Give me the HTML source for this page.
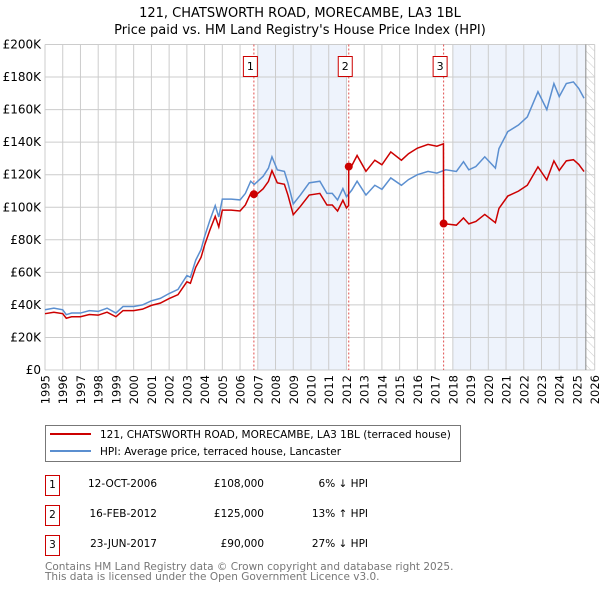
<!DOCTYPE html>
<html><head><meta charset="utf-8"><style>
body{margin:0;background:#fff;width:600px;height:590px;overflow:hidden;font-family:"DejaVu Sans","Liberation Sans",sans-serif}
svg text{font-family:"DejaVu Sans","Liberation Sans",sans-serif}
</style></head><body>
<svg id="chart" width="600" height="590">
<defs><pattern id="hatch" width="6" height="6" patternUnits="userSpaceOnUse" patternTransform="rotate(-45)"><line x1="0" y1="0" x2="0" y2="6" stroke="#ccc" stroke-width="1"/></pattern></defs>
<text x="300" y="17" text-anchor="middle" font-size="13">121, CHATSWORTH ROAD, MORECAMBE, LA3 1BL</text>
<text x="300" y="34" text-anchor="middle" font-size="13">Price paid vs. HM Land Registry's House Price Index (HPI)</text>
<g id="plot"></g>
<g>
<rect x="45.5" y="425.5" width="415" height="36" fill="#fff" stroke="#777"/>
<line x1="50" y1="434" x2="91" y2="434" stroke="#cc0000" stroke-width="2"/>
<text x="100" y="438" font-size="10.5">121, CHATSWORTH ROAD, MORECAMBE, LA3 1BL (terraced house)</text>
<line x1="50" y1="451" x2="91" y2="451" stroke="#5b8fd0" stroke-width="2"/>
<text x="100" y="455" font-size="10.5">HPI: Average price, terraced house, Lancaster</text>
</g>
<g font-size="10.5">
<rect x="45.5" y="475.5" width="14" height="20" fill="none" stroke="#cc0000"/><text x="52.5" y="488" text-anchor="middle">1</text>
<text x="157" y="487" text-anchor="end">12-OCT-2006</text><text x="264" y="487" text-anchor="end">£108,000</text><text x="368" y="487" text-anchor="end">6% ↓ HPI</text>
<rect x="45.5" y="505.5" width="14" height="20" fill="none" stroke="#cc0000"/><text x="52.5" y="518" text-anchor="middle">2</text>
<text x="157" y="517" text-anchor="end">16-FEB-2012</text><text x="264" y="517" text-anchor="end">£125,000</text><text x="368" y="517" text-anchor="end">13% ↑ HPI</text>
<rect x="45.5" y="535.5" width="14" height="20" fill="none" stroke="#cc0000"/><text x="52.5" y="548" text-anchor="middle">3</text>
<text x="157" y="547" text-anchor="end">23-JUN-2017</text><text x="264" y="547" text-anchor="end">£90,000</text><text x="368" y="547" text-anchor="end">27% ↓ HPI</text>
</g>
<text x="45" y="570" font-size="10.5" fill="#777">Contains HM Land Registry data © Crown copyright and database right 2025.</text>
<text x="45" y="580" font-size="10.5" fill="#777">This data is licensed under the Open Government Licence v3.0.</text>
</svg>
<script>
const yTicks=[0,20,40,60,80,100,120,140,160,180,200];
const yTickLabels=["£0","£20K","£40K","£60K","£80K","£100K","£120K","£140K","£160K","£180K","£200K"];
const xYears=[1995,1996,1997,1998,1999,2000,2001,2002,2003,2004,2005,2006,2007,2008,2009,2010,2011,2012,2013,2014,2015,2016,2017,2018,2019,2020,2021,2022,2023,2024,2025,2026];
const hpiDates=[1995.0,1995.5,1996.0,1996.2,1996.5,1997.0,1997.5,1998.0,1998.5,1999.0,1999.4,2000.0,2000.5,2001.0,2001.5,2002.0,2002.5,2003.0,2003.2,2003.5,2003.8,2004.0,2004.3,2004.6,2004.8,2005.0,2005.5,2006.0,2006.3,2006.6,2006.8,2007.0,2007.3,2007.6,2007.8,2008.1,2008.5,2008.7,2009.0,2009.4,2009.9,2010.5,2010.9,2011.2,2011.5,2011.8,2012.0,2012.3,2012.6,2013.1,2013.6,2014.0,2014.5,2015.1,2015.5,2016.0,2016.6,2017.1,2017.6,2018.2,2018.6,2018.9,2019.3,2019.8,2020.4,2020.6,2021.1,2021.7,2022.2,2022.8,2023.3,2023.7,2024.0,2024.4,2024.8,2025.1,2025.4];
const hpiValues=[37,38,37,34,35,35,36.5,36,38,35,39,39,40,42.5,44,47,49.5,58,57,67.5,74,82,92,101,94,105,105,104.5,108.5,116,114,116,119,124,131,123,122,115,102,107.5,115,116,108.5,108.5,104.5,111.5,106.5,110.5,116,107.5,113.5,111,118,113.5,117,120,122,121,123,122,128,123,125,131,124,136,146.5,150.5,155.5,171,160,176,168,176,177,173,167];
const priceDates=[1995.0,1995.5,1996.0,1996.2,1996.5,1997.0,1997.5,1998.0,1998.5,1999.0,1999.4,2000.0,2000.5,2001.0,2001.5,2002.0,2002.5,2003.0,2003.2,2003.5,2003.8,2004.0,2004.3,2004.6,2004.8,2005.0,2005.5,2006.0,2006.3,2006.6,2006.8,2007.0,2007.3,2007.6,2007.8,2008.1,2008.5,2008.7,2009.0,2009.4,2009.9,2010.5,2010.9,2011.2,2011.5,2011.8,2012.0,2012.12,2012.13,2012.3,2012.6,2013.1,2013.6,2014.0,2014.5,2015.1,2015.5,2016.0,2016.6,2017.1,2017.47,2017.48,2017.6,2018.2,2018.6,2018.9,2019.3,2019.8,2020.4,2020.6,2021.1,2021.7,2022.2,2022.8,2023.3,2023.7,2024.0,2024.4,2024.8,2025.1,2025.4];
const priceValues=[34.6,35.5,34.6,31.8,32.7,32.7,34.1,33.7,35.5,32.7,36.5,36.5,37.4,39.7,41.1,43.9,46.3,54.2,53.3,63.1,69.2,76.7,86,94.4,87.9,98.2,98.2,97.7,101.4,108.5,106.6,108.5,111.3,115.9,122.5,115,114.1,107.5,95.4,100.5,107.5,108.5,101.4,101.4,97.7,104.3,99.6,101,125,125.5,131.8,122.1,128.9,126.1,134,128.9,132.9,136.3,138.6,137.5,139,90,89.8,89,93.4,89.8,91.3,95.6,90.5,99.3,106.9,109.9,113.5,124.8,116.8,128.5,122.6,128.5,129.2,126.3,121.9];
const saleDates=[2006.78,2012.13,2017.48];
const salePrices=[108,125,90];
const saleLabels=["1","2","3"];
const shadeStarts=[2007.0,2018.0];
const shadeEnds=[2012.0,2025.5];

const L=45,R=594.7,T=44.5,B=370;
const xs=y=>L+(y-1995)*(R-L)/31;
const ys=v=>B-v*(B-T)/200;
const NS="http://www.w3.org/2000/svg";
const g=document.getElementById('plot');
function mk(tag,attrs,parent){const e=document.createElementNS(NS,tag);for(const k in attrs)e.setAttribute(k,attrs[k]);(parent||g).appendChild(e);return e;}
shadeStarts.forEach((s,i)=>{const r=mk('rect',{x:xs(s),y:T,width:xs(shadeEnds[i])-xs(s),height:B-T,fill:'#eef3fc'});

});
const h=mk('rect',{x:xs(2025.5),y:T,width:R-xs(2025.5),height:B-T,fill:'url(#hatch)'});


yTicks.forEach((v,i)=>{mk('line',{x1:L,x2:R,y1:ys(v),y2:ys(v),stroke:'#ccc','stroke-width':1});
const t=mk('text',{x:L-4,y:ys(v)+4,'text-anchor':'end','font-size':12});t.textContent=yTickLabels[i];

});
xYears.forEach(y=>{mk('line',{x1:xs(y),x2:xs(y),y1:T,y2:B,stroke:'#ccc','stroke-width':1});
const tx=xs(y)+4.5,ty=375;
const t=mk('text',{x:tx,y:ty,'text-anchor':'end','font-size':11.5,transform:`rotate(-90 ${tx} ${ty})`});t.textContent=y;

});
mk('line',{x1:xs(2025.5),x2:xs(2025.5),y1:T,y2:B,stroke:'#888','stroke-width':1});
saleDates.forEach((d,i)=>{const l=mk('line',{x1:xs(d),x2:xs(d),y1:T,y2:B,stroke:'#e05050','stroke-width':1,'stroke-dasharray':'2,2'});


const r=mk('rect',{x:xs(d)-10.5,y:56.5,width:14,height:20,fill:'#fff',stroke:'#cc0000'});


const t=mk('text',{x:xs(d)-3.5,y:70,'text-anchor':'middle','font-size':11});t.textContent=saleLabels[i];});
const hp=mk('polyline',{points:hpiDates.map((d,i)=>xs(d)+','+ys(hpiValues[i])).join(' '),fill:'none',stroke:'#5b8fd0','stroke-width':1.5});


const pp=mk('polyline',{points:priceDates.map((d,i)=>xs(d)+','+ys(priceValues[i])).join(' '),fill:'none',stroke:'#cc0000','stroke-width':1.5});


saleDates.forEach((d,i)=>{const c=mk('circle',{cx:xs(d),cy:ys(salePrices[i]),r:4,fill:'#cc0000'});

});
</script>
</body></html>
